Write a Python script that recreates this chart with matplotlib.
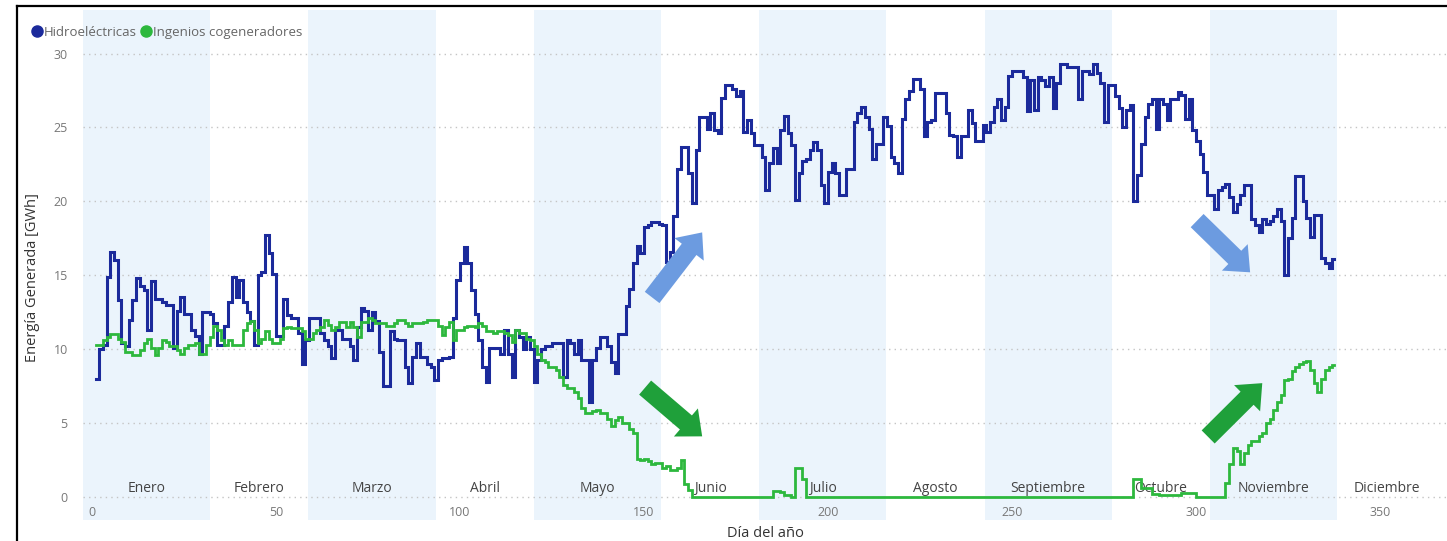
import matplotlib
matplotlib.use("Agg")
import matplotlib.pyplot as plt
import numpy as np
from matplotlib.lines import Line2D

plt.rcParams['font.family'] = ['Open Sans', 'DejaVu Sans']

months = ["Enero", "Febrero", "Marzo", "Abril", "Mayo", "Junio", "Julio",
          "Agosto", "Septiembre", "Octubre", "Noviembre", "Diciembre"]
xticks = [0, 50, 100, 150, 200, 250, 300, 350]
yticks = [0, 5, 10, 15, 20, 25, 30]

# hidroelectricas: day where a new daily value starts, and that value (GWh)
hydro_days = [1, 2, 3, 4, 5, 6, 7, 8, 9, 10, 11, 12, 13, 14, 15, 16, 17, 19, 20, 22,
              23, 24, 25, 27, 28, 29, 30, 32, 33, 34, 36, 37, 38, 39, 40, 41, 42, 43, 44, 45,
              46, 47, 48, 49, 50, 52, 53, 54, 56, 57, 58, 59, 62, 63, 64, 65, 66, 68, 70, 71,
              72, 73, 74, 75, 76, 77, 78, 79, 81, 82, 83, 85, 86, 87, 88, 89, 91, 92, 93, 94,
              95, 97, 98, 99, 100, 101, 102, 103, 104, 105, 106, 107, 108, 111, 112, 113, 114, 115, 116, 117,
              118, 119, 120, 121, 122, 123, 125, 128, 129, 130, 131, 132, 133, 135, 136, 137, 138, 140, 141, 142,
              143, 145, 146, 147, 148, 149, 150, 151, 152, 154, 155, 156, 157, 158, 159, 160, 162, 163, 164, 165,
              167, 168, 169, 170, 171, 172, 174, 175, 176, 177, 178, 179, 180, 182, 183, 184, 185, 186, 187, 188,
              189, 190, 191, 192, 193, 194, 195, 196, 197, 198, 199, 200, 201, 202, 203, 205, 207, 208, 209, 210,
              211, 212, 213, 215, 216, 217, 218, 219, 220, 221, 222, 223, 225, 226, 227, 228, 229, 232, 233, 234,
              235, 236, 238, 239, 240, 242, 243, 244, 245, 246, 247, 248, 249, 250, 253, 254, 255, 256, 257, 258,
              259, 260, 261, 262, 263, 265, 268, 269, 271, 272, 273, 274, 275, 276, 278, 279, 280, 281, 282, 283,
              284, 285, 286, 287, 288, 289, 290, 291, 292, 293, 295, 296, 297, 298, 299, 300, 301, 302, 303, 305,
              306, 307, 308, 309, 310, 311, 312, 313, 315, 316, 317, 318, 319, 320, 321, 322, 323, 324, 325, 326,
              327, 329, 330, 331, 332, 334, 335, 336, 337]
hydro_vals = [8.0, 10.0, 10.3, 14.9, 16.6, 16.0, 13.3, 10.4, 10.2, 12.0, 13.3, 14.8, 14.3, 14.0, 11.3, 14.6, 13.4, 13.2, 13.0, 10.1,
              12.6, 13.5, 12.4, 11.3, 10.9, 9.7, 12.5, 12.4, 11.8, 10.3, 11.6, 13.2, 14.9, 13.5, 14.7, 13.2, 12.5, 11.9, 10.3, 15.0,
              15.2, 17.7, 16.5, 15.1, 10.9, 13.4, 12.3, 12.1, 11.1, 9.0, 10.6, 12.1, 11.1, 10.6, 10.2, 9.4, 11.3, 10.7, 10.2, 9.3,
              11.5, 12.8, 12.6, 11.3, 12.5, 11.9, 9.8, 7.5, 11.2, 10.7, 10.6, 8.8, 7.7, 9.5, 10.4, 9.5, 9.0, 8.8, 7.9, 9.3,
              9.4, 9.5, 12.1, 14.7, 15.8, 16.9, 15.8, 14.0, 12.4, 10.6, 8.8, 7.8, 10.1, 9.7, 11.3, 9.7, 8.1, 11.3, 10.8, 10.0,
              10.8, 10.0, 7.8, 9.3, 10.0, 10.2, 10.4, 8.1, 10.6, 10.4, 9.7, 10.6, 9.3, 6.4, 9.3, 10.1, 10.8, 10.2, 9.1, 8.4,
              11.0, 12.9, 14.1, 15.8, 17.0, 16.5, 18.3, 18.4, 18.6, 18.5, 18.4, 15.9, 16.6, 19.0, 22.2, 23.7, 21.9, 19.9, 23.5, 25.7,
              24.9, 26.0, 24.8, 24.6, 27.0, 27.9, 27.6, 27.1, 27.5, 24.7, 25.5, 24.6, 23.8, 23.0, 20.8, 22.6, 23.6, 22.6, 24.8, 25.8,
              24.6, 23.8, 20.1, 21.9, 22.7, 22.9, 23.5, 24.0, 23.5, 21.1, 19.9, 22.0, 22.6, 21.9, 20.4, 22.2, 25.4, 26.0, 26.4, 25.7,
              24.9, 22.9, 23.9, 25.7, 25.1, 23.0, 22.6, 21.9, 25.6, 26.9, 27.5, 28.3, 27.6, 24.4, 25.4, 25.5, 27.3, 26.0, 24.5, 24.4,
              23.0, 24.4, 26.2, 25.3, 24.1, 25.2, 24.7, 25.4, 26.4, 26.9, 25.5, 26.4, 28.5, 28.8, 28.4, 26.1, 28.2, 26.2, 28.4, 28.2,
              27.8, 28.4, 26.3, 28.0, 29.3, 29.1, 26.9, 28.8, 28.6, 29.3, 28.7, 28.0, 25.4, 27.9, 27.1, 26.3, 25.0, 26.2, 26.5, 20.0,
              21.8, 23.9, 25.7, 26.6, 26.9, 24.9, 26.9, 26.6, 25.5, 26.9, 27.4, 27.2, 25.6, 26.9, 24.8, 24.1, 23.2, 22.0, 20.4, 19.5,
              20.8, 21.0, 21.2, 20.3, 19.3, 19.8, 20.4, 21.1, 18.8, 18.4, 17.9, 18.8, 18.5, 18.7, 19.0, 19.5, 18.7, 15.0, 17.5, 18.9,
              21.7, 20.0, 18.9, 17.6, 19.1, 16.2, 15.8, 15.5, 16.1]

# ingenios cogeneradores
cogen_days = [1, 3, 4, 5, 7, 8, 9, 11, 13, 14, 15, 16, 17, 18, 19, 20, 21, 23, 24, 25,
              26, 28, 29, 31, 32, 33, 34, 35, 36, 37, 38, 41, 42, 43, 44, 45, 46, 47, 48, 49,
              51, 52, 53, 54, 57, 58, 60, 61, 62, 63, 64, 65, 66, 67, 69, 70, 71, 72, 73, 75,
              76, 77, 80, 82, 83, 85, 86, 87, 90, 91, 94, 95, 96, 97, 98, 99, 101, 102, 104, 105,
              106, 107, 109, 110, 112, 113, 114, 115, 116, 118, 119, 120, 121, 122, 123, 124, 126, 127, 128, 129,
              131, 132, 133, 134, 136, 137, 138, 140, 141, 142, 143, 144, 146, 147, 148, 149, 150, 151, 152, 153,
              155, 156, 157, 159, 160, 161, 162, 163, 185, 187, 188, 190, 191, 193, 194, 283, 285, 288, 290, 296,
              298, 300, 308, 309, 310, 311, 312, 313, 314, 315, 317, 318, 319, 320, 321, 322, 323, 324, 325, 326,
              327, 328, 329, 330, 331, 332, 333, 334, 335, 336, 337]
cogen_vals = [10.3, 10.6, 10.85, 11.0, 10.7, 10.5, 9.8, 9.6, 9.95, 10.4, 10.7, 10.1, 9.6, 10.1, 10.6, 10.5, 10.2, 9.95, 9.7, 10.1,
              10.3, 10.4, 9.7, 10.3, 10.85, 11.6, 11.3, 10.6, 10.3, 10.6, 10.3, 11.3, 11.75, 11.9, 11.3, 10.4, 10.7, 11.2, 10.7, 10.4,
              10.7, 11.4, 11.5, 11.4, 11.2, 10.7, 11.1, 11.3, 11.5, 11.98, 11.65, 11.3, 11.5, 11.86, 11.5, 11.86, 11.5, 10.85, 11.86, 12.1,
              11.98, 11.75, 11.6, 11.75, 11.98, 11.75, 11.6, 11.75, 11.86, 11.98, 11.6, 10.95, 11.5, 11.86, 10.6, 11.3, 11.5, 11.6, 11.5, 11.75,
              11.6, 11.2, 11.1, 11.2, 11.1, 10.95, 10.5, 11.3, 11.1, 10.72, 10.6, 10.2, 9.7, 9.3, 9.1, 8.8, 8.6, 8.1, 7.6, 7.4,
              7.1, 6.7, 6.0, 5.66, 5.8, 5.9, 5.66, 5.3, 4.8, 5.2, 5.4, 5.0, 4.6, 4.3, 2.6, 2.5, 2.6, 2.4, 2.2, 2.3,
              1.96, 2.1, 1.85, 1.96, 2.5, 0.9, 0.5, 0.0, 0.4, 0.35, 0.1, 0.0, 1.96, 1.2, 0.0, 1.2, 0.6, 0.2, 0.1, 0.3,
              0.3, 0.0, 0.95, 2.2, 3.3, 3.1, 2.2, 3.0, 3.5, 3.8, 4.1, 4.3, 5.0, 5.3, 5.9, 6.4, 6.9, 7.9, 8.0, 8.5,
              8.8, 9.0, 9.1, 9.2, 8.6, 7.7, 7.1, 8.0, 8.6, 8.8, 8.9]

# arrows: (tail_day, tail_value, tip_day, tip_value)
blue_arrows = [(152.2, 13.5, 165.8, 17.9), (300.3, 18.7, 314.7, 15.2)]
green_arrows = [(150.3, 7.4, 165.8, 4.1), (303.3, 4.06, 318.0, 7.7)]

hydro_color = "#1b2a9b"
cogen_color = "#2db83d"
band_color = "#ebf4fc"

W, H = 1447, 541
fig = plt.figure(figsize=(W / 100, H / 100), dpi=100)
ax = fig.add_axes([83 / W, 21 / H, (W - 83) / W, 510 / H])

# month bands + labels
for i, m in enumerate(months):
    c = 14.8 + 30.63 * i
    if i % 2 == 0:
        ax.axvspan(c - 17.3, c + 17.3, color=band_color, lw=0, zorder=0)
    ax.text(c, 0.55, m, ha="center", va="center", fontsize=10, color="#444444", zorder=1)

hd = np.append(hydro_days, hydro_days[-1] + 0.6)
hv = np.append(hydro_vals, hydro_vals[-1])
cd = np.append(cogen_days, cogen_days[-1] + 0.6)
cv = np.append(cogen_vals, cogen_vals[-1])
ax.plot(hd, hv, drawstyle="steps-post", color=hydro_color, lw=2.2, zorder=3,
        solid_joinstyle="miter")
ax.plot(cd, cv, drawstyle="steps-post", color=cogen_color, lw=2.0, zorder=4,
        solid_joinstyle="miter")

for (x0, y0, x1, y1) in blue_arrows:
    ax.annotate("", xy=(x1, y1), xytext=(x0, y0),
                arrowprops=dict(arrowstyle="simple,head_length=1.1,head_width=1.9,tail_width=0.95",
                                mutation_scale=14, color="#6c9be0", lw=0,
                                shrinkA=0, shrinkB=0), zorder=5)
for (x0, y0, x1, y1) in green_arrows:
    ax.annotate("", xy=(x1, y1), xytext=(x0, y0),
                arrowprops=dict(arrowstyle="simple,head_length=1.1,head_width=1.9,tail_width=0.95",
                                mutation_scale=14, color="#1fa03a", lw=0,
                                shrinkA=0, shrinkB=0), zorder=5)

ax.set_xlim(-2.45, 368.2)
ax.set_ylim(-1.56, 32.95)
ax.set_xticks(xticks)
ax.set_yticks(yticks)
ax.tick_params(axis="both", length=0, labelsize=9, labelcolor="#777777")
ax.tick_params(axis="x", pad=-10)
ax.tick_params(axis="y", pad=11)
for s in ax.spines.values():
    s.set_visible(False)
ax.yaxis.grid(True, linestyle=(0, (1, 3)), color="#c4c4c4", lw=1)
ax.set_axisbelow(True)

ax.set_xlabel("Día del año", fontsize=10.5, color="#333333")
ax.xaxis.set_label_coords(0.5, -0.012)
ax.set_ylabel("Energía Generada [GWh]", fontsize=10.5, color="#333333")
ax.yaxis.set_label_coords(-0.0315, 0.476)

handles = [Line2D([], [], marker="o", ls="", color=hydro_color, markersize=8),
           Line2D([], [], marker="o", ls="", color=cogen_color, markersize=8)]
fig.legend(handles, ["Hidroeléctricas", "Ingenios cogeneradores"], loc="upper left",
           bbox_to_anchor=(0.019, 0.962), ncol=2, frameon=False, handlelength=0.6,
           handletextpad=0.25, columnspacing=0.35, fontsize=9.5, labelcolor="#666666",
           borderaxespad=0)

# screenshot frame (left and top edges)
fig.add_artist(Line2D([16.5 / W, 16.5 / W], [0, 1 - 6 / H], transform=fig.transFigure,
                      color="black", lw=1.6))
fig.add_artist(Line2D([16.5 / W, 1], [1 - 6 / H, 1 - 6 / H], transform=fig.transFigure,
                      color="black", lw=1.6))

fig.savefig("out.png", dpi=100)
